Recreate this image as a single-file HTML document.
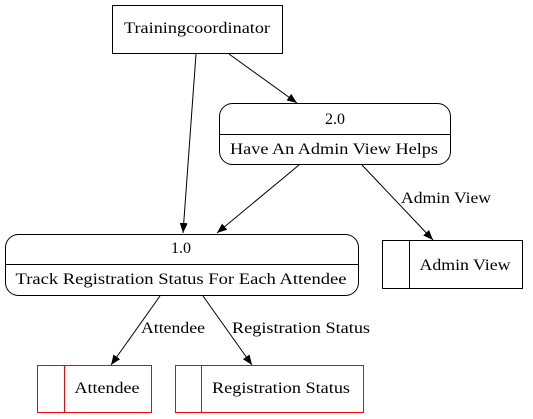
<!DOCTYPE html>
<html><head><meta charset="utf-8"><style>html,body{margin:0;padding:0;background:#fff;}svg{display:block}text{font-family:"Liberation Serif",serif;font-size:16px}</style></head>
<body>
<svg width="533" height="419" viewBox="0 0 533 419" xmlns="http://www.w3.org/2000/svg" fill="#000">
<defs>
<marker id="a" markerWidth="10" markerHeight="8" refX="10" refY="4" orient="auto" markerUnits="userSpaceOnUse">
<path d="M0,0 L10,4 L0,8 z" fill="#000"/>
</marker>
</defs>
<g stroke="#000" stroke-width="1" fill="none">
<rect x="112.5" y="5.5" width="170" height="48"/>
<rect x="219.5" y="103.5" width="231" height="61" rx="13"/>
<line x1="219.5" y1="134.5" x2="450.5" y2="134.5"/>
<rect x="5.5" y="234.5" width="353" height="61" rx="13"/>
<line x1="5.5" y1="264.5" x2="358.5" y2="264.5"/>
<rect x="382.5" y="240.5" width="140" height="48"/>
<line x1="409.5" y1="240.5" x2="409.5" y2="288.5"/>
</g>
<g stroke="#ff0000" stroke-width="1" fill="none">
<rect x="37.5" y="365.5" width="114" height="47"/>
<line x1="64.5" y1="365.5" x2="64.5" y2="412.5"/>
<rect x="175.5" y="365.5" width="188" height="47"/>
<line x1="201.5" y1="365.5" x2="201.5" y2="412.5"/>
</g>
<g stroke="#000" stroke-width="1" marker-end="url(#a)">
<line x1="196" y1="54" x2="183" y2="233"/>
<line x1="229" y1="54" x2="297" y2="103"/>
<line x1="299" y1="165" x2="217" y2="233"/>
<line x1="362" y1="165" x2="433" y2="240"/>
<line x1="160" y1="296" x2="111" y2="365"/>
<line x1="203" y1="296" x2="252" y2="365"/>
</g>
<g text-anchor="middle">
<text x="197" y="33" textLength="146" lengthAdjust="spacingAndGlyphs">Trainingcoordinator</text>
<text x="335" y="124">2.0</text>
<text x="334" y="154" textLength="208" lengthAdjust="spacingAndGlyphs">Have An Admin View Helps</text>
<text x="181" y="253">1.0</text>
<text x="181" y="284" textLength="331" lengthAdjust="spacingAndGlyphs">Track Registration Status For Each Attendee</text>
<text x="465" y="270" textLength="91" lengthAdjust="spacingAndGlyphs">Admin View</text>
<text x="107" y="393" textLength="65" lengthAdjust="spacingAndGlyphs">Attendee</text>
<text x="281" y="393" textLength="138" lengthAdjust="spacingAndGlyphs">Registration Status</text>
</g>
<text x="401" y="203" textLength="90" lengthAdjust="spacingAndGlyphs">Admin View</text>
<text x="141" y="333" textLength="64" lengthAdjust="spacingAndGlyphs">Attendee</text>
<text x="232" y="333" textLength="138" lengthAdjust="spacingAndGlyphs">Registration Status</text>
</svg>
</body></html>
